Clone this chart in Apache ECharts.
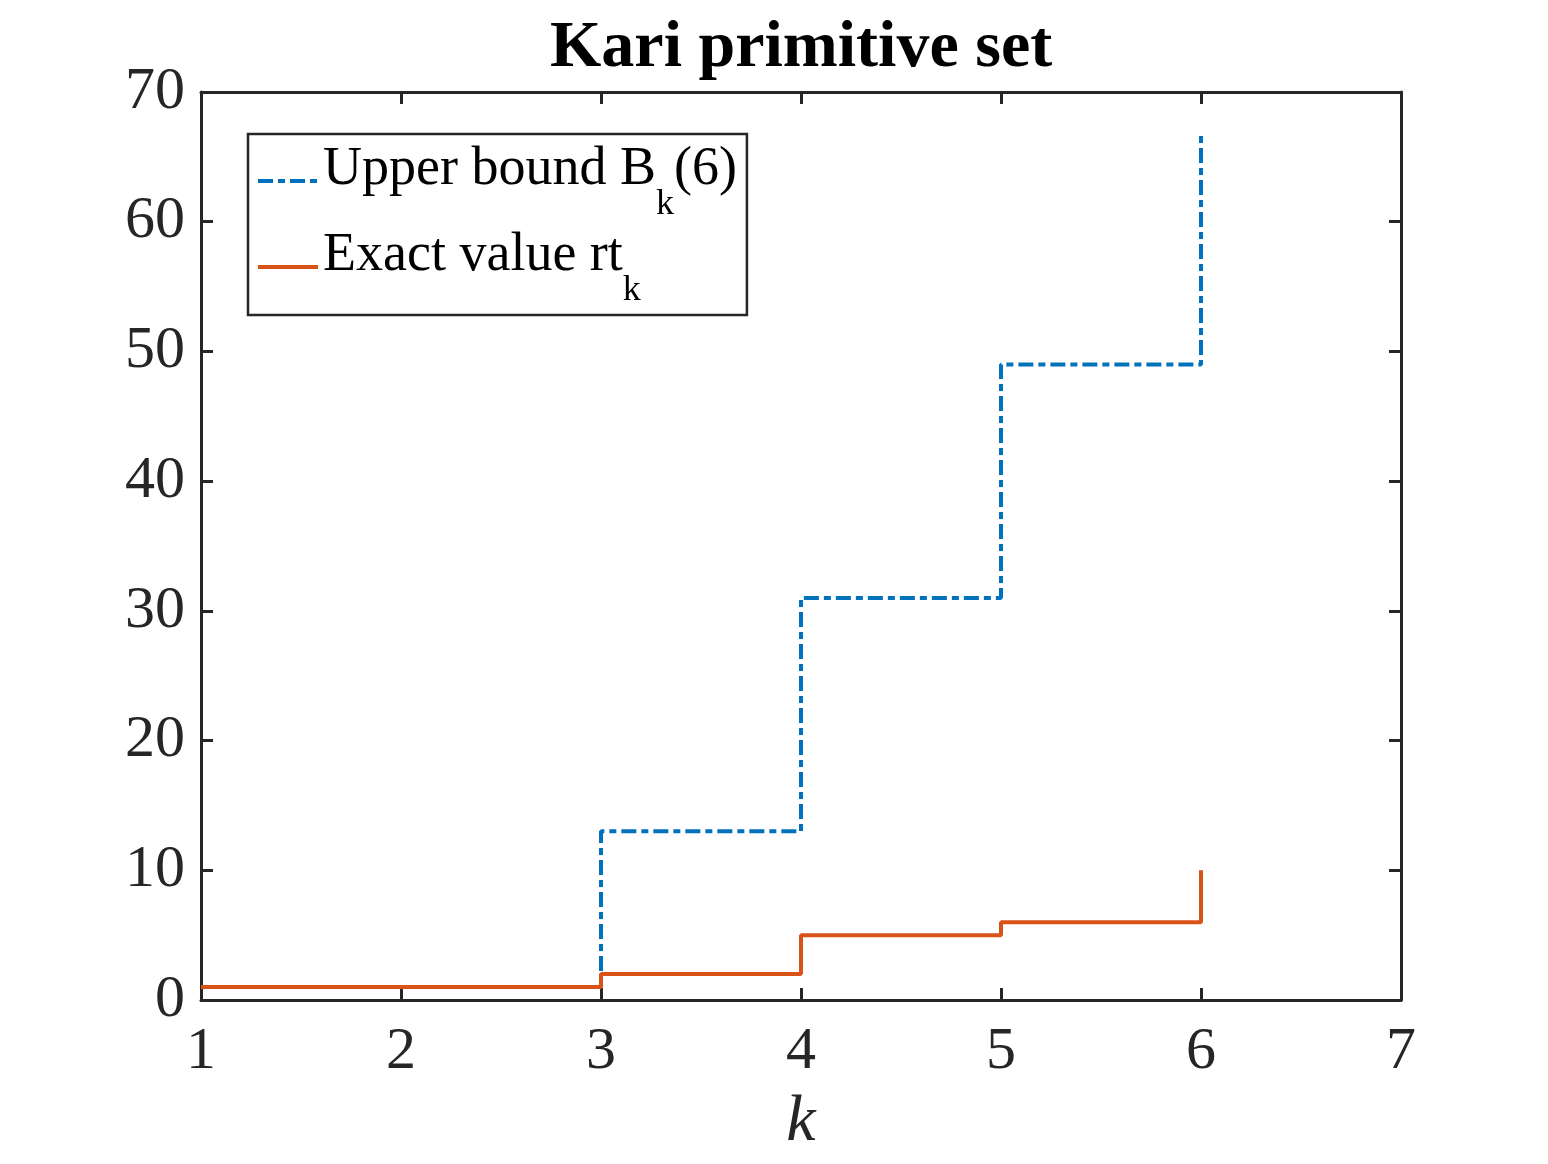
<!DOCTYPE html>
<html><head><meta charset="utf-8">
<script src="https://cdn.jsdelivr.net/npm/echarts@6/dist/echarts.min.js"></script>
<style>html,body{margin:0;padding:0;background:#fff}#c{width:1548px;height:1164px}</style>
</head><body><div id="c"></div>
<script>
// ---- data ----
const kValues    = [1, 2, 3, 4, 5, 6];
const upperBound = [1, 1, 13, 31, 49, 67];
const exactValue = [1, 1, 2, 5, 6, 10];
const xTicks = [1, 2, 3, 4, 5, 6, 7];
const yTicks = [0, 10, 20, 30, 40, 50, 60, 70];
const titleText = 'Kari primitive set';
const seriesNames = ['Upper bound B_k(6)', 'Exact value rt_k'];
const legendRich = {
  'Upper bound B_k(6)': '{m|Upper bound B}{s|k}{m|(6)}',
  'Exact value rt_k': '{m|Exact value rt}{s|k}'
};

const FONT = 'Liberation Serif';
const AX = '#262626';
const chart = echarts.init(document.getElementById('c'), null, {renderer: 'canvas'});

function axisCommon(showLabel) {
  return {
    type: 'value',
    axisLine: {show: true, onZero: false, lineStyle: {color: AX, width: 3}},
    axisTick: {show: true, inside: true, length: 12, lineStyle: {color: AX, width: 3}},
    splitLine: {show: false},
    axisLabel: {show: showLabel, fontFamily: FONT, fontSize: 60, color: AX}
  };
}
const xMin = xTicks[0], xMax = xTicks[xTicks.length - 1], xInt = xTicks[1] - xTicks[0];
const yMin = yTicks[0], yMax = yTicks[yTicks.length - 1], yInt = yTicks[1] - yTicks[0];

const option = {
  backgroundColor: '#fff',
  animation: false,
  title: {
    text: titleText,
    left: 545, top: 11,
    textStyle: {fontFamily: FONT, fontWeight: 'bold', fontSize: 66, color: '#000'}
  },
  grid: {left: 201, right: 147, top: 92, bottom: 164, containLabel: false, outerBoundsMode: 'none'},
  xAxis: [
    Object.assign(axisCommon(true), {
      position: 'bottom', min: xMin, max: xMax, interval: xInt,
      name: 'k', nameLocation: 'middle', nameGap: 90,
      nameTextStyle: {fontFamily: FONT, fontStyle: 'italic', fontSize: 66, color: AX},
      axisLabel: {show: true, fontFamily: FONT, fontSize: 60, color: AX, margin: 22}
    }),
    Object.assign(axisCommon(false), {position: 'top', min: xMin, max: xMax, interval: xInt})
  ],
  yAxis: [
    Object.assign(axisCommon(true), {
      position: 'left', min: yMin, max: yMax, interval: yInt,
      axisLabel: {show: true, fontFamily: FONT, fontSize: 60, color: AX, margin: 16}
    }),
    Object.assign(axisCommon(false), {position: 'right', min: yMin, max: yMax, interval: yInt})
  ],
  legend: {
    orient: 'vertical',
    left: 248, top: 134,
    itemWidth: 60, itemHeight: 14, itemGap: 6,
    padding: [9, 10, 6, 8],
    borderColor: AX, borderWidth: 2.5, backgroundColor: '#fff',
    selectedMode: false,
    data: seriesNames,
    lineStyle: {width: 4},
    itemStyle: {color: 'rgba(0,0,0,0)', borderWidth: 0, opacity: 0},
    formatter: function (n) { return legendRich[n]; },
    textStyle: {
      fontFamily: FONT, fontSize: 54, color: '#000',
      rich: {
        m: {fontFamily: FONT, fontSize: 54, color: '#000', padding: [0, 0, 22, 0]},
        s: {fontFamily: FONT, fontSize: 36, color: '#000', padding: [48, 0, 0, 0]}
      }
    }
  },
  series: [
    {
      name: seriesNames[0], type: 'line', step: 'end', showSymbol: false, symbol: 'none',
      xAxisIndex: 0, yAxisIndex: 0,
      data: kValues.map((k, i) => [k, upperBound[i]]),
      lineStyle: {color: '#0072BD', width: 4, type: [15, 5, 7, 5]},
      itemStyle: {color: '#0072BD'}, z: 2
    },
    {
      name: seriesNames[1], type: 'line', step: 'end', showSymbol: false, symbol: 'none',
      xAxisIndex: 0, yAxisIndex: 0,
      data: kValues.map((k, i) => [k, exactValue[i]]),
      lineStyle: {color: '#D95319', width: 4, type: 'solid'},
      itemStyle: {color: '#D95319'}, z: 3
    }
  ]
};
chart.setOption(option);
</script>
</body></html>
